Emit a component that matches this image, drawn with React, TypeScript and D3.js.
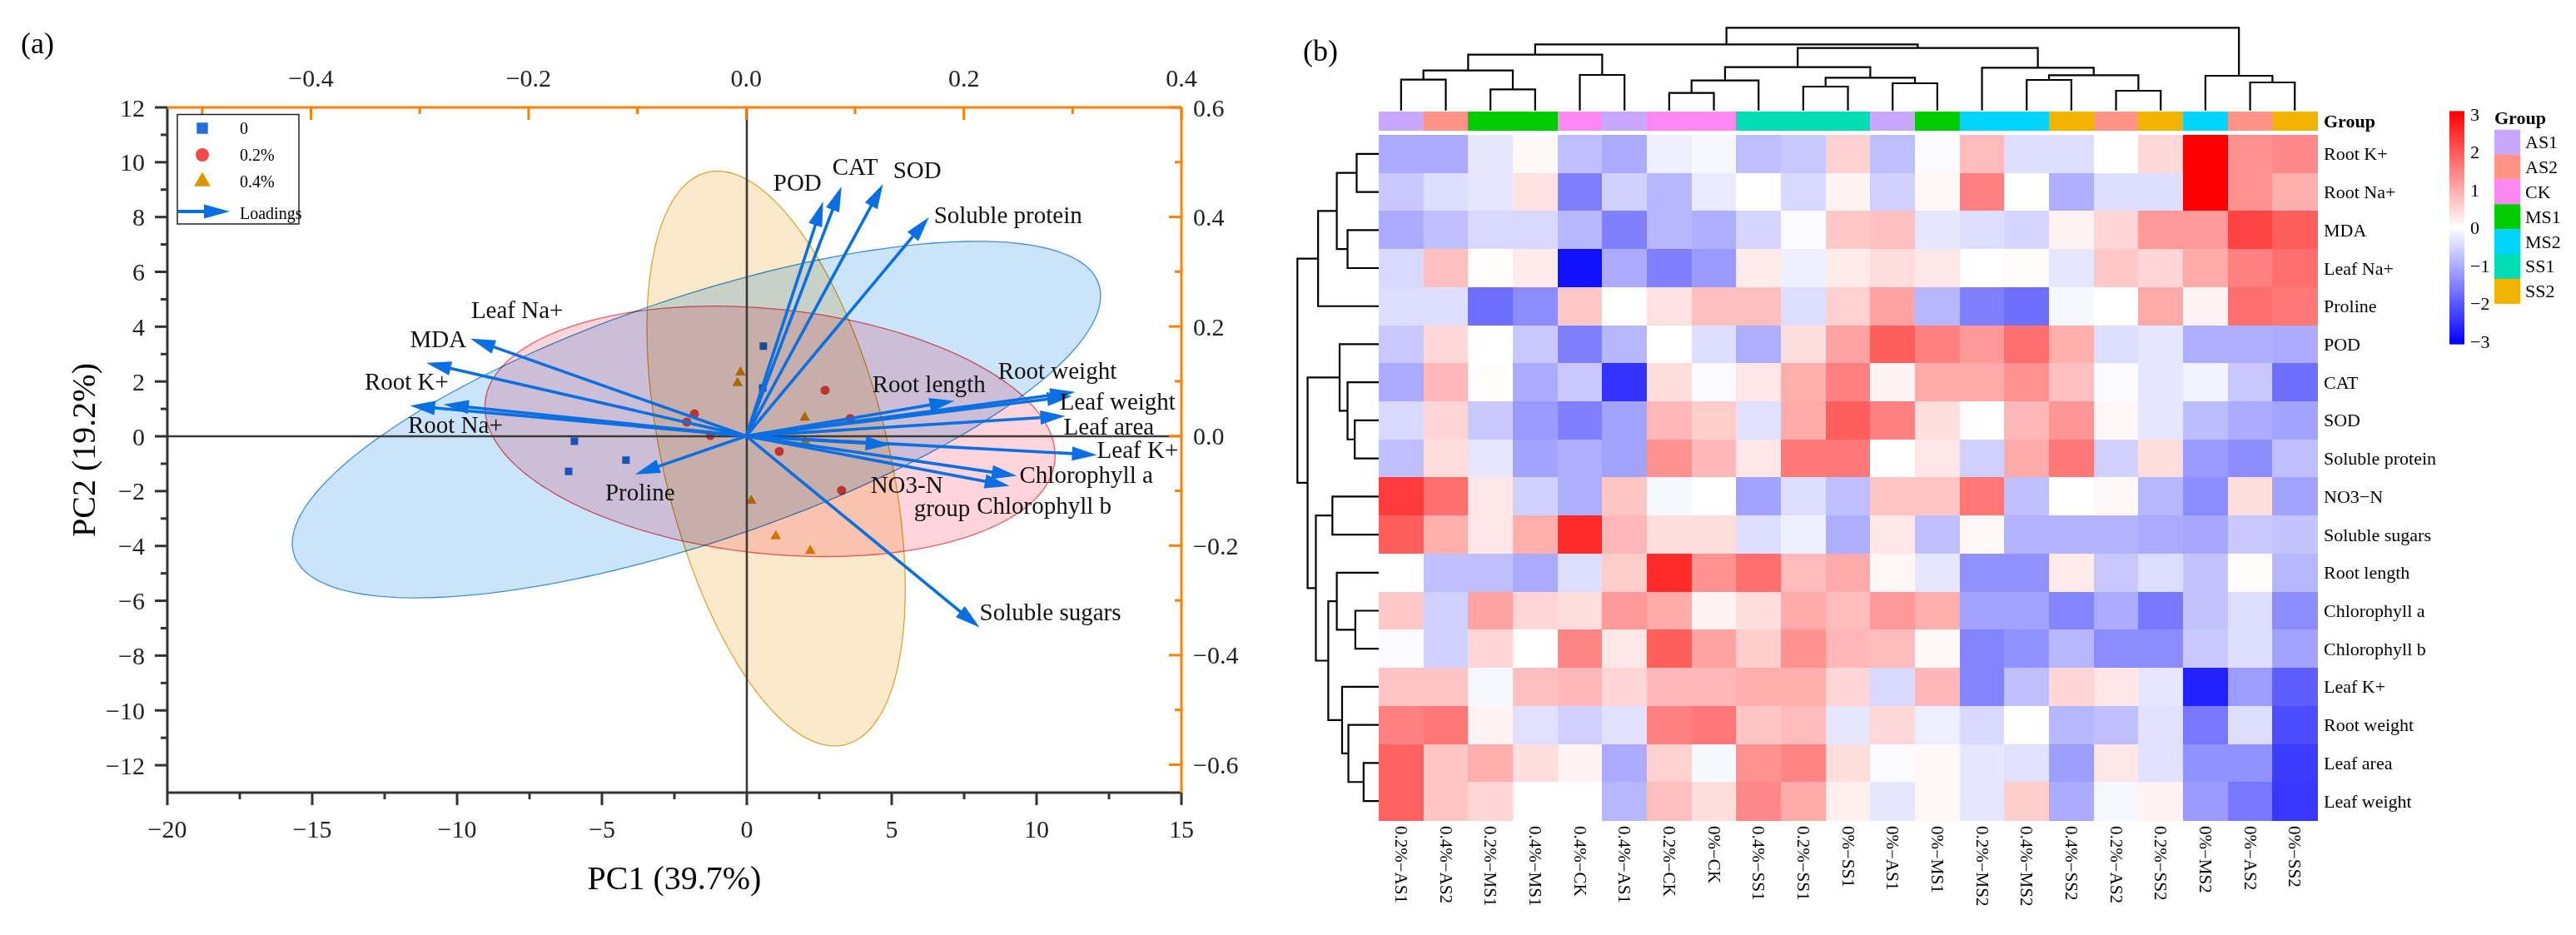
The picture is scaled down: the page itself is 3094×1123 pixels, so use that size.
import React from 'react';
import * as d3 from 'd3';

const FONT = "'Liberation Serif','Times New Roman',Times,serif";
const MINUS = '\u2212';
const fmt = (v: number, d: number) => (v < -1e-9 ? MINUS : '') + Math.abs(v).toFixed(d);

// ---------------- PCA biplot data ----------------
const pcaGroupNames = ['0', '0.2%', '0.4%'];
const pcaPointColors = ['#1F6EDB', '#F24848', '#DA9700'];
const pcaEllipseFills = ['#CCE4FA', '#FFD5DB', '#FAEACB'];
const pcaEllipseStrokes = ['#3F8FDA', '#EF5A66', '#D9A537'];

// PC1, PC2 scores per group
const scoresG0 = [[0.57, 3.29], [0.55, 1.76], [-5.95, -0.18], [-4.17, -0.87], [-6.15, -1.28]];
const scoresG1 = [[-1.81, 0.82], [-2.07, 0.52], [2.7, 1.68], [1.12, -0.55], [3.27, -1.97], [3.57, 0.65], [-1.26, 0.03]];
const scoresG2 = [[-0.22, 2.33], [-0.32, 1.94], [2.0, 0.68], [0.15, -2.35], [1.0, -3.65], [2.19, -4.18], [2.01, -0.18]];

// confidence ellipses (PC units): centre, semi-axes, angle (deg)
const ellipseCenters = [[-1.74, 0.61], [0.8, 0.18], [1.01, -0.81]];
const ellipseAxes = [[14.74, 4.43], [9.89, 4.46], [10.71, 3.89]];
const ellipseAngles = [19.8, -6.45, -77.4];

const loadingNames = ['Root K+', 'Root Na+', 'MDA', 'Leaf Na+', 'Proline', 'POD', 'CAT', 'SOD', 'Soluble protein', 'NO3-N', 'Soluble sugars', 'Root length', 'Chlorophyll a', 'Chlorophyll b', 'Leaf K+', 'Root weight', 'Leaf area', 'Leaf weight'];
const loadingPC1 = [-0.309, -0.278, -0.2535, -0.2941, -0.1021, 0.0707, 0.0876, 0.1258, 0.1679, 0.1327, 0.2145, 0.1914, 0.2487, 0.2421, 0.3224, 0.3023, 0.2933, 0.2994];
const loadingPC2 = [0.0554, 0.0577, 0.1777, 0.1337, -0.0699, 0.4284, 0.4557, 0.4603, 0.3995, -0.016, -0.3494, 0.0643, -0.0725, -0.0911, -0.0345, 0.0805, 0.0365, 0.0729];
const labelPC1 = [-0.3507, -0.3109, -0.309, -0.2528, -0.1296, 0.0249, 0.0792, 0.135, 0.1725, 0.1143, 0.2145, 0.1159, 0.2512, 0.2119, 0.3224, 0.2314, 0.2918, 0.288];
const labelPC2 = [0.0851, 0.0061, 0.1625, 0.2157, -0.117, 0.4487, 0.477, 0.4715, 0.388, -0.1033, -0.3366, 0.0798, -0.086, -0.1413, -0.04, 0.1048, 0.0025, 0.048];
const extraLabelText = ['group'];
const extraLabelPC1 = [0.1541];
const extraLabelPC2 = [-0.1458];

const pc1Ticks = [-20, -15, -10, -5, 0, 5, 10, 15];
const pc2Ticks = [-12, -10, -8, -6, -4, -2, 0, 2, 4, 6, 8, 10, 12];
const loadXTicks = [-0.4, -0.2, 0, 0.2, 0.4];
const loadYTicks = [-0.6, -0.4, -0.2, 0, 0.2, 0.4, 0.6];

// ---------------- Heatmap data ----------------
const sampleLabels = ['0.2%−AS1', '0.4%−AS2', '0.2%−MS1', '0.4%−MS1', '0.4%−CK', '0.4%−AS1', '0.2%−CK', '0%−CK', '0.4%−SS1', '0.2%−SS1', '0%−SS1', '0%−AS1', '0%−MS1', '0.2%−MS2', '0.4%−MS2', '0.4%−SS2', '0.2%−AS2', '0.2%−SS2', '0%−MS2', '0%−AS2', '0%−SS2'];
const sampleGroups = ['AS1', 'AS2', 'MS1', 'MS1', 'CK', 'AS1', 'CK', 'CK', 'SS1', 'SS1', 'SS1', 'AS1', 'MS1', 'MS2', 'MS2', 'SS2', 'AS2', 'SS2', 'MS2', 'AS2', 'SS2'];
const groupLevels = ['AS1', 'AS2', 'CK', 'MS1', 'MS2', 'SS1', 'SS2'];
const groupLevelColors = ['#C8A8FF', '#FF9486', '#FF88F2', '#00CC00', '#00D4FF', '#00DDB5', '#F0B400'];
const traitNames = ['Root K+', 'Root Na+', 'MDA', 'Leaf Na+', 'Proline', 'POD', 'CAT', 'SOD', 'Soluble protein', 'NO3−N', 'Soluble sugars', 'Root length', 'Chlorophyll a', 'Chlorophyll b', 'Leaf K+', 'Root weight', 'Leaf area', 'Leaf weight'];
const heatValues = [
  [-1.0, -1.0, -0.3, 0.1, -0.75, -1.0, -0.2, -0.1, -0.75, -0.65, 0.55, -0.75, -0.05, 0.8, -0.4, -0.4, 0.0, 0.45, 3.0, 1.3, 1.4],
  [-0.65, -0.4, -0.3, 0.35, -1.5, -0.55, -0.85, -0.25, 0.0, -0.45, 0.15, -0.55, 0.1, 1.5, 0.0, -0.95, -0.4, -0.4, 3.0, 1.3, 0.95],
  [-1.0, -0.75, -0.45, -0.45, -0.85, -1.5, -0.85, -0.95, -0.5, -0.05, 0.65, 0.75, -0.3, -0.4, -0.5, 0.15, 0.5, 1.2, 1.2, 2.2, 1.9],
  [-0.45, 0.75, 0.05, 0.25, -2.8, -1.0, -1.5, -1.2, 0.25, -0.2, 0.25, 0.4, 0.3, 0.0, 0.05, -0.3, 0.65, 0.5, 1.0, 1.5, 1.7],
  [-0.4, -0.4, -1.7, -1.35, 0.65, 0.0, 0.35, 0.75, 0.75, -0.4, 0.55, 1.1, -0.85, -1.5, -1.7, -0.1, 0.0, 1.0, 0.15, 1.7, 1.6],
  [-0.65, 0.45, 0.0, -0.65, -1.5, -0.85, 0.0, -0.4, -0.95, 0.4, 1.1, 1.9, 1.5, 1.2, 1.7, 0.95, -0.4, -0.3, -0.95, -0.95, -1.0],
  [-1.0, 0.85, 0.05, -1.0, -0.65, -2.4, 0.4, -0.05, 0.3, 0.95, 1.5, 0.15, 1.0, 1.0, 1.3, 0.75, -0.05, -0.3, -0.15, -0.65, -1.7],
  [-0.45, 0.5, -0.65, -1.2, -1.5, -1.1, 0.85, 0.6, -0.35, 1.0, 1.9, 1.5, 0.4, 0.0, 0.85, 1.25, 0.1, -0.3, -0.8, -1.0, -1.1],
  [-0.75, 0.4, -0.3, -1.1, -0.95, -1.1, 1.3, 0.85, 0.3, 1.6, 1.6, 0.0, 0.3, -0.55, 1.0, 1.6, -0.55, 0.4, -1.2, -1.35, -0.75],
  [2.3, 1.7, 0.3, -0.55, -0.95, 0.7, -0.1, 0.0, -1.1, -0.4, -0.75, 0.7, 0.7, 1.6, -0.75, 0.0, 0.1, -0.85, -1.35, 0.4, -1.1],
  [1.9, 0.95, 0.3, 0.95, 2.5, 0.85, 0.4, 0.4, -0.4, -0.2, -0.95, 0.3, -0.75, 0.1, -0.9, -0.9, -0.9, -1.0, -1.05, -0.65, -0.7],
  [0.0, -0.75, -0.75, -1.0, -0.4, 0.6, 2.5, 1.3, 1.7, 0.8, 1.0, 0.1, -0.3, -1.3, -1.3, 0.25, -0.65, -0.4, -0.7, 0.05, -0.85],
  [0.65, -0.55, 1.1, 0.5, 0.4, 1.2, 1.0, 0.15, 0.4, 1.0, 0.8, 1.2, 0.95, -1.1, -1.1, -1.45, -1.0, -1.6, -0.7, -0.4, -1.35],
  [-0.05, -0.55, 0.5, 0.0, 1.45, 0.3, 1.9, 1.1, 0.6, 1.3, 0.85, 0.8, 0.1, -1.45, -1.3, -0.85, -1.35, -1.35, -0.65, -0.4, -1.1],
  [0.7, 0.7, -0.1, 0.75, 0.85, 0.5, 0.85, 0.85, 0.95, 0.95, 0.5, -0.45, 0.85, -1.45, -0.75, 0.5, 0.3, -0.3, -2.6, -1.15, -1.9],
  [1.5, 1.6, 0.15, -0.35, -0.55, -0.35, 1.5, 1.6, 0.7, 0.8, -0.3, 0.45, -0.2, -0.45, 0.0, -0.85, -0.75, -0.35, -1.6, -0.4, -2.1],
  [1.85, 0.7, 0.95, 0.4, 0.15, -1.0, 0.55, -0.1, 1.3, 1.45, 0.4, -0.05, 0.1, -0.3, -0.35, -1.15, 0.3, -0.35, -1.3, -1.3, -2.3],
  [1.85, 0.7, 0.5, 0.0, 0.0, -0.85, 0.75, 0.4, 1.4, 1.0, 0.2, -0.3, 0.1, -0.3, 0.6, -1.0, -0.1, 0.15, -1.2, -1.6, -2.35],
];
const colorbarTicks = [-3, -2, -1, 0, 1, 2, 3];

type Tree = number | [Tree, Tree, number];
// column dendrogram (leaf = column index, third entry = merge height)
const colTree: Tree = [
  [
    [[[0, 1, 37.0], [2, 3, 25.4], 48.0], [4, 5, 42.7], 67.0],
    [
      [[[6, 7, 21.0], 8, 36.0], [[9, 10, 28.7], [11, 12, 32.7], 39.4], 52.0],
      [13, [[14, 15, 36.7], [16, 17, 23.7], 42.4], 51.4],
      75.0,
    ],
    79.4,
  ],
  [18, [19, 20, 33.7], 41.7],
  99.4,
];
// row dendrogram
const rowTree: Tree = [
  [[[0, 1, 26.7], [2, 3, 37.7], 50.7], 4, 73.3],
  [
    [5, [6, [7, 8, 29.0], 37.7], 47.3],
    [[9, 10, 56.0], [[11, [12, 13, 28.3], 50.7], [14, [15, [16, 17, 18.3], 36.7], 44.3], 61.0], 76.0],
    86.0,
  ],
  98.3,
];

type Seg = { p1: number; h1: number; p2: number; h2: number; h: number };
function layoutTree(t: Tree, leafPos: (i: number) => number, segs: Seg[]): { pos: number; h: number } {
  if (typeof t === 'number') return { pos: leafPos(t), h: 0 };
  const L = layoutTree(t[0], leafPos, segs);
  const R = layoutTree(t[1], leafPos, segs);
  segs.push({ p1: L.pos, h1: L.h, p2: R.pos, h2: R.h, h: t[2] });
  return { pos: (L.pos + R.pos) / 2, h: t[2] };
}

function arrowPath(x0: number, y0: number, x1: number, y1: number, len: number, hw: number) {
  const dx = x1 - x0, dy = y1 - y0;
  const L = Math.hypot(dx, dy);
  const ux = dx / L, uy = dy / L;
  const bx = x1 - ux * len, by = y1 - uy * len;
  return {
    line: [x0, y0, bx + ux * 2, by + uy * 2],
    head: `M${x1},${y1}L${bx - uy * hw},${by + ux * hw}L${bx + uy * hw},${by - ux * hw}Z`,
  };
}

const PCA = () => {
  const L = 201, R = 1419, T = 129, B = 952;
  const x = d3.scaleLinear().domain([-20, 15]).range([L, R]);
  const y = d3.scaleLinear().domain([-13, 12]).range([B, T]);
  const xl = d3.scaleLinear().domain([-0.532, 0.4]).range([L, R]);
  const yl = d3.scaleLinear().domain([-0.651, 0.6]).range([B, T]);
  const dark = '#333333';
  const orange = '#FF8000';
  const arrowColor = '#0A6FE3';
  const allScores = [scoresG0, scoresG1, scoresG2];
  const symbols = [d3.symbolSquare, d3.symbolCircle, d3.symbolTriangle];
  const sizes = [81, 95, 70];
  const legendSizes = [180, 200, 170];

  const ellipseLine = d3.line<[number, number]>().curve(d3.curveLinearClosed);
  const ellipses = ellipseCenters.map((c, gi) => {
    const [a, b] = ellipseAxes[gi];
    const phi = (ellipseAngles[gi] * Math.PI) / 180;
    const pts: [number, number][] = d3.range(0, 360, 2).map((deg) => {
      const t = (deg * Math.PI) / 180;
      const px = c[0] + a * Math.cos(t) * Math.cos(phi) - b * Math.sin(t) * Math.sin(phi);
      const py = c[1] + a * Math.cos(t) * Math.sin(phi) + b * Math.sin(t) * Math.cos(phi);
      return [x(px), y(py)];
    });
    return ellipseLine(pts) as string;
  });

  const minorPC1 = d3.range(-17.5, 15, 5);
  const minorPC2 = d3.range(-11, 12, 2);
  const minorLX = [-0.5, -0.3, -0.1, 0.1, 0.3];
  const minorLY = [-0.5, -0.3, -0.1, 0.1, 0.3, 0.5];
  const tickFont = 30;

  return (
    <g fontFamily={FONT}>
      <text x={25} y={64} fontSize={36}>(a)</text>
      {/* points */}
      {allScores.map((sc, gi) =>
        sc.map((p, i) => (
          <path key={`p${gi}-${i}`} d={d3.symbol(symbols[gi], sizes[gi])() as string}
            transform={`translate(${x(p[0])},${y(p[1])})`} fill={pcaPointColors[gi]} />
        ))
      )}
      {/* ellipses (multiply blend) */}
      {ellipses.map((d, gi) => (
        <path key={`e${gi}`} d={d} fill={pcaEllipseFills[gi]} stroke={pcaEllipseStrokes[gi]} strokeWidth={1.3}
          style={{ mixBlendMode: 'multiply' }} />
      ))}
      {/* zero lines */}
      <line x1={L} x2={R} y1={y(0)} y2={y(0)} stroke="#3a3a3a" strokeWidth={2.6} />
      <line x1={x(0)} x2={x(0)} y1={T} y2={B} stroke="#3a3a3a" strokeWidth={2.6} />
      {/* bottom axis */}
      <line x1={L} x2={R} y1={B} y2={B} stroke={dark} strokeWidth={3} />
      {pc1Ticks.map((v) => (
        <g key={`bx${v}`}>
          <line x1={x(v)} x2={x(v)} y1={B} y2={B + 15} stroke={dark} strokeWidth={3} />
          <text x={x(v)} y={B + 54} fontSize={tickFont} textAnchor="middle" fill="#222">{fmt(v, 0)}</text>
        </g>
      ))}
      {minorPC1.map((v) => (
        <line key={`bm${v}`} x1={x(v)} x2={x(v)} y1={B} y2={B + 8} stroke={dark} strokeWidth={3} />
      ))}
      {/* left axis */}
      <line x1={L} x2={L} y1={T} y2={B} stroke={dark} strokeWidth={3} />
      {pc2Ticks.map((v) => (
        <g key={`ly${v}`}>
          <line x1={L - 15} x2={L} y1={y(v)} y2={y(v)} stroke={dark} strokeWidth={3} />
          <text x={L - 27} y={y(v)} fontSize={tickFont} textAnchor="end" dominantBaseline="central" fill="#222">{fmt(v, 0)}</text>
        </g>
      ))}
      {minorPC2.map((v) => (
        <line key={`lm${v}`} x1={L - 8} x2={L} y1={y(v)} y2={y(v)} stroke={dark} strokeWidth={3} />
      ))}
      {/* top axis (loadings) */}
      <line x1={L} x2={R} y1={T} y2={T} stroke={orange} strokeWidth={3} />
      {loadXTicks.map((v) => (
        <g key={`tx${v}`}>
          <line x1={xl(v)} x2={xl(v)} y1={T} y2={T + 15} stroke={orange} strokeWidth={3} />
          <text x={xl(v)} y={T - 25} fontSize={tickFont} textAnchor="middle" fill="#222">{fmt(v, 1)}</text>
        </g>
      ))}
      {minorLX.map((v) => (
        <line key={`tm${v}`} x1={xl(v)} x2={xl(v)} y1={T} y2={T + 8} stroke={orange} strokeWidth={3} />
      ))}
      {/* right axis (loadings) */}
      <line x1={R} x2={R} y1={T} y2={B} stroke={orange} strokeWidth={3} />
      {loadYTicks.map((v) => (
        <g key={`ry${v}`}>
          <line x1={R - 15} x2={R} y1={yl(v)} y2={yl(v)} stroke={orange} strokeWidth={3} />
          <text x={R + 14} y={yl(v)} fontSize={tickFont} dominantBaseline="central" fill="#222">{fmt(v, 1)}</text>
        </g>
      ))}
      {minorLY.map((v) => (
        <line key={`rm${v}`} x1={R - 8} x2={R} y1={yl(v)} y2={yl(v)} stroke={orange} strokeWidth={3} />
      ))}
      {/* axis titles */}
      <text x={(L + R) / 2} y={1068} fontSize={40} textAnchor="middle">PC1 (39.7%)</text>
      <text transform={`translate(100,${(T + B) / 2}) rotate(-90)`} fontSize={40} textAnchor="middle" dominantBaseline="central">PC2 (19.2%)</text>
      {/* loading arrows */}
      {loadingNames.map((n, i) => {
        const a = arrowPath(xl(0), yl(0), xl(loadingPC1[i]), yl(loadingPC2[i]), 30, 8.5);
        return (
          <g key={`ar${i}`}>
            <line x1={a.line[0]} y1={a.line[1]} x2={a.line[2]} y2={a.line[3]} stroke={arrowColor} strokeWidth={3.6} />
            <path d={a.head} fill={arrowColor} />
          </g>
        );
      })}
      {loadingNames.map((n, i) => (
        <text key={`lb${i}`} x={xl(labelPC1[i])} y={yl(labelPC2[i])} fontSize={29} fill="#111">{n}</text>
      ))}
      {extraLabelText.map((n, i) => (
        <text key={`ex${i}`} x={xl(extraLabelPC1[i])} y={yl(extraLabelPC2[i])} fontSize={29} fill="#111">{n}</text>
      ))}
      {/* legend */}
      <rect x={213} y={137.5} width={146} height={131.5} fill="#fff" stroke="#222" strokeWidth={1.5} />
      {pcaGroupNames.map((g, gi) => (
        <g key={`lg${gi}`}>
          <path d={d3.symbol(symbols[gi], legendSizes[gi])() as string} transform={`translate(243,${154 + gi * 32})`} fill={pcaPointColors[gi]} />
          <text x={288} y={154 + gi * 32} fontSize={20} dominantBaseline="central">{g}</text>
        </g>
      ))}
      {(() => {
        const a = arrowPath(213, 254, 276, 254, 31, 8.5);
        return (
          <g>
            <line x1={a.line[0]} y1={a.line[1]} x2={a.line[2]} y2={a.line[3]} stroke={arrowColor} strokeWidth={4} />
            <path d={a.head} fill={arrowColor} />
            <text x={288} y={256} fontSize={20} dominantBaseline="central">Loadings</text>
          </g>
        );
      })()}
    </g>
  );
};

const Heatmap = () => {
  const x0 = 1656, cw = 53.67, y0 = 162, rh = 45.72;
  const nC = sampleLabels.length, nR = traitNames.length;
  const xs = d3.scaleLinear().domain([0, nC]).range([x0, x0 + cw * nC]);
  const ys = d3.scaleLinear().domain([0, nR]).range([y0, y0 + rh * nR]);
  const color = d3.scaleLinear<string>().domain([-3, 0, 3]).range(['#0000FF', '#FFFFFF', '#FF0000']).clamp(true);
  const groupColor = d3.scaleOrdinal<string, string>().domain(groupLevels).range(groupLevelColors);

  const colSegs: Seg[] = [];
  layoutTree(colTree, (i) => xs(i + 0.5), colSegs);
  const hTop = d3.scaleLinear().domain([0, 99.4]).range([132.7, 33.3]);
  const rowSegs: Seg[] = [];
  layoutTree(rowTree, (i) => ys(i + 0.5), rowSegs);
  const hSide = d3.scaleLinear().domain([0, 98.3]).range([1656, 1558.3]);

  const cbScale = d3.scaleLinear().domain([-3, 3]).range([410, 137]);
  const swY = 155.7, swH = 29.85;

  return (
    <g fontFamily={FONT}>
      <defs>
        <linearGradient id="cbGrad" x1="0" y1="1" x2="0" y2="0">
          <stop offset="0%" stopColor="#0000FF" />
          <stop offset="50%" stopColor="#FFFFFF" />
          <stop offset="100%" stopColor="#FF0000" />
        </linearGradient>
      </defs>
      <text x={1565} y={73} fontSize={36}>(b)</text>
      {/* dendrograms */}
      {colSegs.map((s, i) => (
        <path key={`cs${i}`} d={`M${s.p1},${hTop(s.h1)}V${hTop(s.h)}H${s.p2}V${hTop(s.h2)}`} fill="none" stroke="#000" strokeWidth={2.2} />
      ))}
      {rowSegs.map((s, i) => (
        <path key={`rs${i}`} d={`M${hSide(s.h1)},${s.p1}H${hSide(s.h)}V${s.p2}H${hSide(s.h2)}`} fill="none" stroke="#000" strokeWidth={2.2} />
      ))}
      {/* group annotation bar */}
      {sampleGroups.map((g, c) => (
        <rect key={`gb${c}`} x={xs(c)} y={134} width={cw + 0.6} height={23.3} fill={groupColor(g)} shapeRendering="crispEdges" />
      ))}
      <text x={2791} y={145.7} fontSize={22} fontWeight="bold" dominantBaseline="central">Group</text>
      {/* cells */}
      {heatValues.map((row, r) =>
        row.map((v, c) => (
          <rect key={`c${r}-${c}`} x={xs(c)} y={ys(r)} width={cw + 0.6} height={rh + 0.6} fill={color(v)} shapeRendering="crispEdges" />
        ))
      )}
      {traitNames.map((n, r) => (
        <text key={`rn${r}`} x={2791} y={ys(r + 0.5)} fontSize={22} dominantBaseline="central">{n}</text>
      ))}
      {sampleLabels.map((n, c) => (
        <text key={`cn${c}`} transform={`translate(${xs(c + 0.5)},992) rotate(90)`} fontSize={21} dominantBaseline="central">{n}</text>
      ))}
      {/* colour bar */}
      <rect x={2942} y={cbScale(3.08)} width={18} height={cbScale(-3.08) - cbScale(3.08)} fill="url(#cbGrad)" />
      {colorbarTicks.map((v) => (
        <text key={`cb${v}`} x={2967} y={cbScale(v)} fontSize={22} dominantBaseline="central">{fmt(v, 0)}</text>
      ))}
      {/* group legend */}
      <text x={2996} y={149} fontSize={22} fontWeight="bold">Group</text>
      {groupLevels.map((g, i) => (
        <g key={`gl${i}`}>
          <rect x={2996} y={swY + i * swH} width={31} height={swH + 0.3} fill={groupLevelColors[i]} />
          <text x={3033} y={swY + (i + 0.5) * swH} fontSize={22} dominantBaseline="central">{g}</text>
        </g>
      ))}
    </g>
  );
};

export default function App() {
  return (
    <svg width={3094} height={1123} viewBox="0 0 3094 1123" style={{ position: 'absolute', left: 0, top: 0, display: 'block', background: '#fff' }}>
      <rect x={0} y={0} width={3094} height={1123} fill="#fff" />
      <PCA />
      <Heatmap />
    </svg>
  );
}
